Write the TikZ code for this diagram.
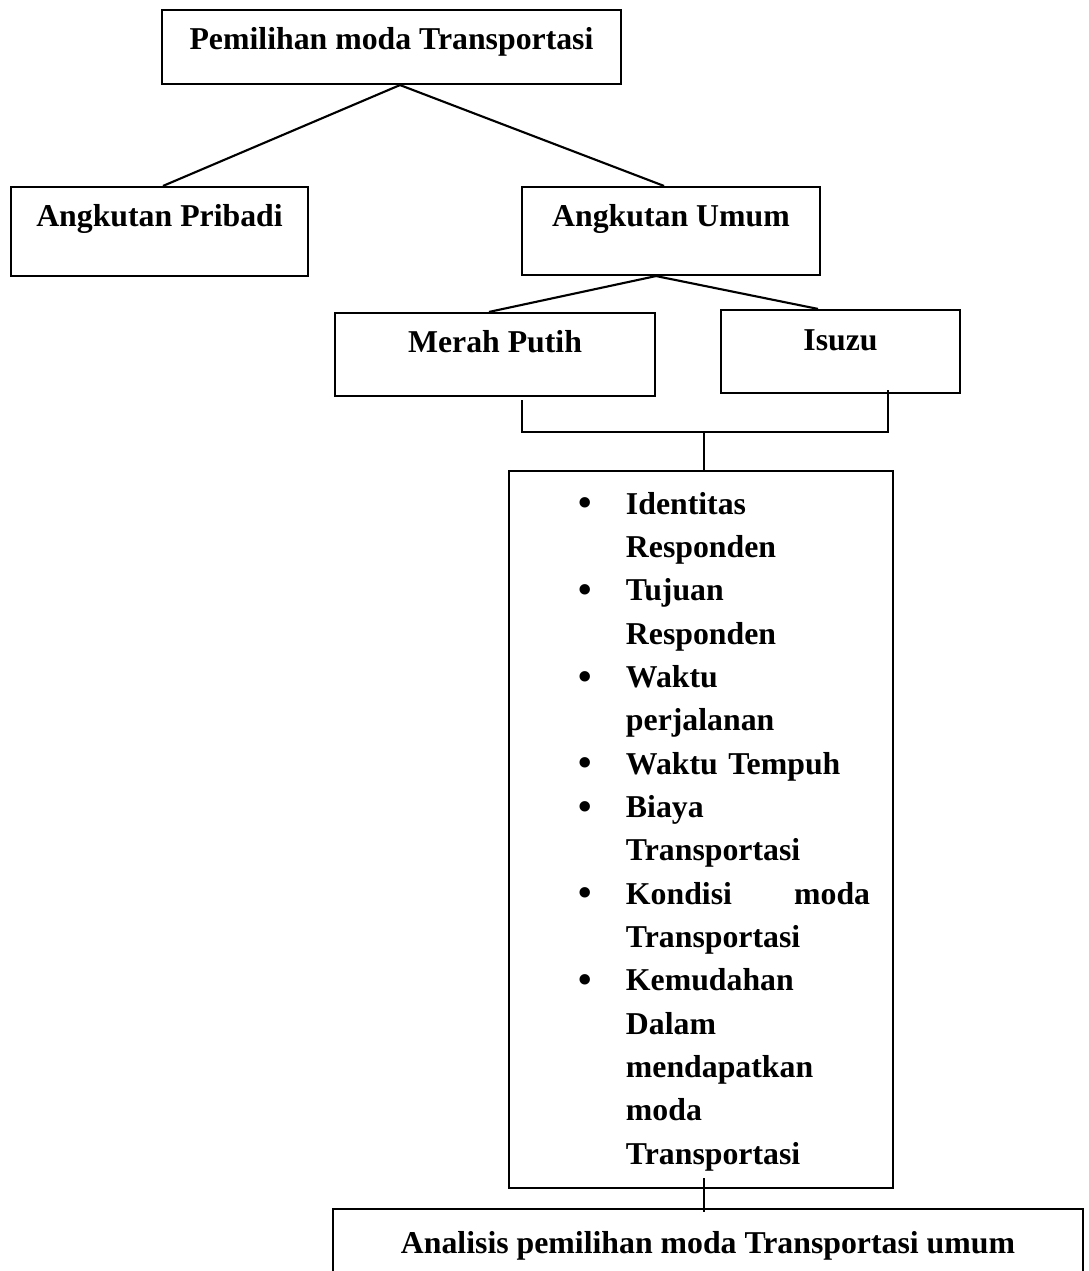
\documentclass[tikz,border=0pt]{standalone}
\usepackage{fontspec}
\setmainfont{Liberation Serif}
\usetikzlibrary{calc}

% 列表的一项
\newcommand{\butir}[1]{\par\hangindent=17.93pt\hangafter=1\noindent\makebox[17.93pt][l]{\raisebox{-0.6pt}{\fontsize{14.5}{14.5}\selectfont\textbullet}}#1}

\begin{document}
\begin{tikzpicture}[x=0.3775pt, y=-0.3775pt, line width=0.8pt,
  kotak/.style={draw, inner xsep=0pt, inner ysep=0pt, anchor=base,
    font=\bfseries\fontsize{12}{14}\selectfont}]
\useasboundingbox (0,0) rectangle (1089,1271);
\clip (0,0) rectangle (1089,1271);

% 第一层
\node[kotak, minimum width=173.27pt, text height=15.1pt, text depth=12.84pt] (pemilihan) at (391.5,50) {Pemilihan moda Transportasi};

% 第二层
\node[kotak, minimum width=112.12pt, text height=15.1pt, text depth=18.5pt] (pribadi) at (159.5,227) {Angkutan Pribadi};
\node[kotak, minimum width=112.5pt, text height=15.1pt, text depth=18.12pt] (umum) at (671,227) {Angkutan Umum};
\draw ($(pemilihan.south)+(8.5,0)$) -- ($(pribadi.north)+(3.5,0)$);
\draw ($(pemilihan.south)+(8.5,0)$) -- ($(umum.north)+(-7,0)$);

% 第三层
\node[kotak, minimum width=120.8pt, text height=15.1pt, text depth=16.23pt] (merah) at (495,353) {Merah Putih};
\node[kotak, minimum width=90.22pt, text height=15.48pt, text depth=15.86pt] (isuzu) at (840.5,351) {Isuzu};
\draw ($(umum.south)+(-15,0)$) -- ($(merah.north)+(-6,0)$);
\draw ($(umum.south)+(-15,0)$) -- ($(isuzu.north)+(-22.5,0)$);
\draw ($(merah.south)+(27,3)$) -- ++(0,32) -| ($(isuzu.south)+(47.5,-4)$);

% 因素
\node[draw, anchor=north west, text width=144.96pt, inner sep=0pt,
  font=\bfseries\fontsize{12}{16.35}\selectfont] (faktor) at (508,470) {%
  \leftskip=26.2pt \rightskip=8.68pt \parindent=0pt \parskip=0pt
  \tolerance=10000 \hyphenpenalty=10000
  \butir{\rule{0pt}{16.23pt}Identitas\newline Responden}
  \butir{Tujuan\newline Responden}
  \butir{Waktu\newline perjalanan}
  \butir{Waktu Tempuh}
  \butir{Biaya\newline Transportasi}
  \butir{Kondisi\hfill moda\newline Transportasi}
  \butir{Kemudahan\newline Dalam\newline mendapatkan\newline moda\newline Transportasi\rule[-9.06pt]{0pt}{9.06pt}}\par};
\draw ($(faktor.north)+(3,0)$) -- ++(0,-39);

% 分析
\node[kotak, minimum width=283.1pt, text height=16.6pt, text depth=17.7pt] (analisis) at (708,1253) {Analisis pemilihan moda Transportasi umum};
\draw ($(faktor.south)+(3,-11)$) -- ++(0,34);
\end{tikzpicture}
\end{document}
